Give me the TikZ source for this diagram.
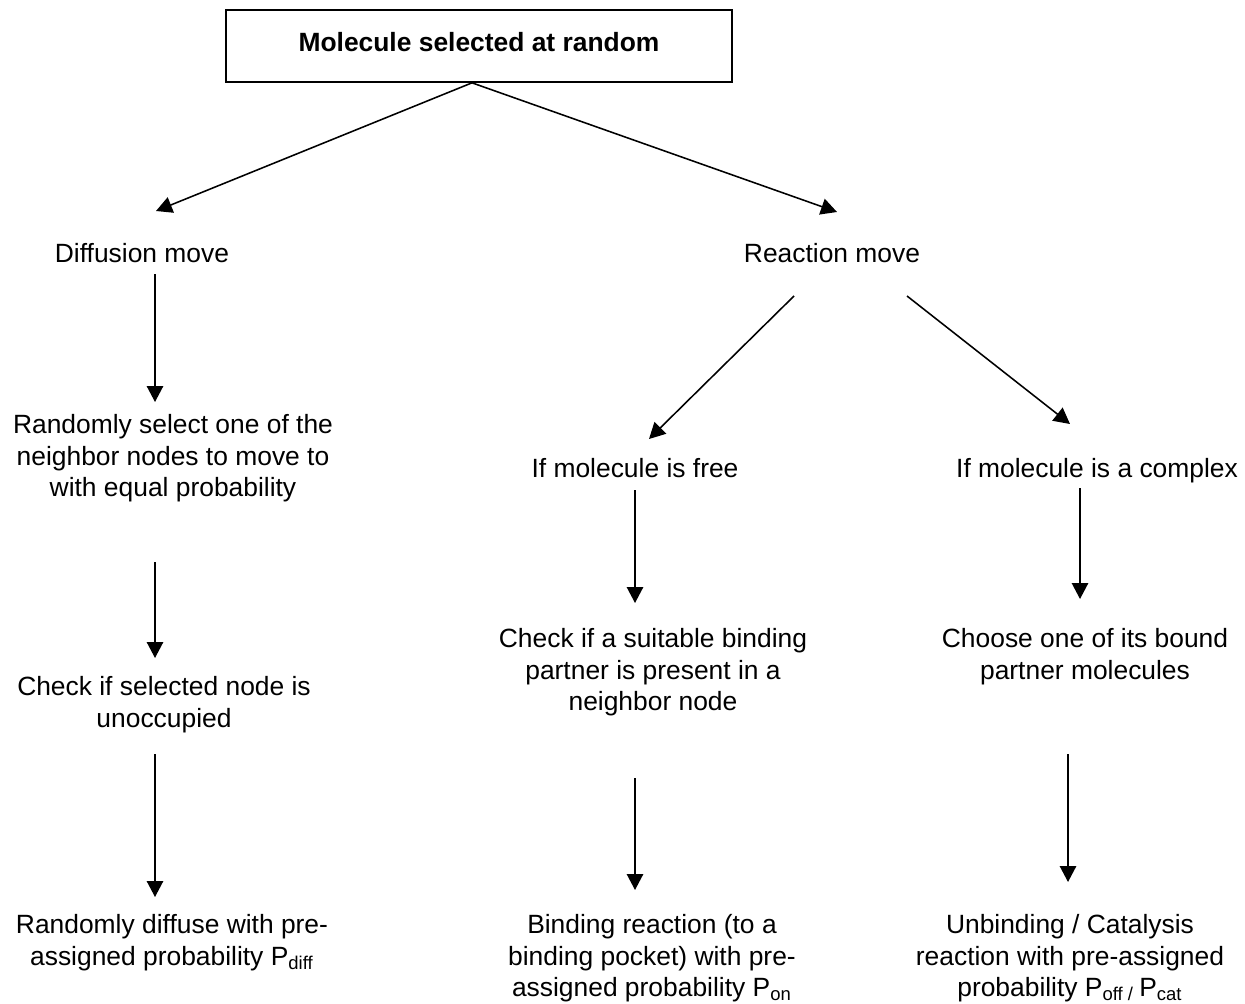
\documentclass[tikz,border=0pt]{standalone}
\usepackage{fontspec}
\setmainfont{Liberation Sans}
\usetikzlibrary{arrows.meta,calc}
\begin{document}
\begin{tikzpicture}[x=0.45pt,y=-0.45pt,
  txt/.style={align=center,inner sep=0pt,anchor=north,font=\fontsize{11.88pt}{14.17pt}\selectfont},
  titlebox/.style={draw,line width=0.75pt,inner sep=0pt,minimum width=227.7pt,minimum height=32.4pt,text depth=4pt,font=\fontsize{11.88pt}{14.17pt}\selectfont\bfseries},
  arr/.style={line width=0.7pt,-{Triangle[length=7.2pt,width=7.4pt]}}
  ]
\useasboundingbox (0,0) rectangle (1245,1003);
\node[titlebox] (top) at (479,46) {Molecule selected at random};
\node[txt] (dm) at (142,243) {Diffusion move};
\node[txt] (rm) at (832,243) {Reaction move};
\node[txt] (sel) at (173,414) {Randomly select one of the\\neighbor nodes to move to\\with equal probability};
\node[txt] (chk) at (164,676) {Check if selected node is\\unoccupied};
\node[txt] (rd) at (172,914) {Randomly diffuse with pre-\\assigned probability P\textsubscript{diff}};
\node[txt] (free) at (635,458) {If molecule is free};
\node[txt] (cplx) at (1097,458) {If molecule is a complex};
\node[txt] (chkb) at (653,628) {Check if a suitable binding\\partner is present in a\\neighbor node};
\node[txt] (choose) at (1085,628) {Choose one of its bound\\partner molecules};
\node[txt] (bind) at (652,914) {Binding reaction (to a\\binding pocket) with pre-\\assigned probability P\textsubscript{on}};
\node[txt] (unb) at (1070,914) {Unbinding / Catalysis\\reaction with pre-assigned\\probability P\textsubscript{off / }P\textsubscript{cat}};
% connectors
\draw[arr] ($(top.south)+(-7,0)$) -- ($(dm.north)+(14,-32)$);
\draw[arr] ($(top.south)+(-7,0)$) -- ($(rm.north)+(5,-31)$);
\draw[arr] ($(dm.north)+(13,31)$) -- ($(sel.north)+(-18,-12)$);
\draw[arr] ($(sel.north)+(-18,148)$) -- ($(chk.north)+(-9,-18)$);
\draw[arr] ($(chk.north)+(-9,78)$) -- ($(rd.north)+(-17,-17)$);
\draw[arr] ($(rm.north)+(-38,53)$) -- ($(free.north)+(14,-19)$);
\draw[arr] ($(rm.north)+(75,53)$) -- ($(cplx.north)+(-27,-34)$);
\draw[arr] ($(free.north)+(0,32)$) -- ($(chkb.north)+(-18,-25)$);
\draw[arr] ($(chkb.north)+(-18,150)$) -- ($(bind.north)+(-17,-24)$);
\draw[arr] ($(cplx.north)+(-17,30)$) -- ($(choose.north)+(-5,-29)$);
\draw[arr] ($(choose.north)+(-17,126)$) -- ($(unb.north)+(-2,-32)$);
\end{tikzpicture}
\end{document}
